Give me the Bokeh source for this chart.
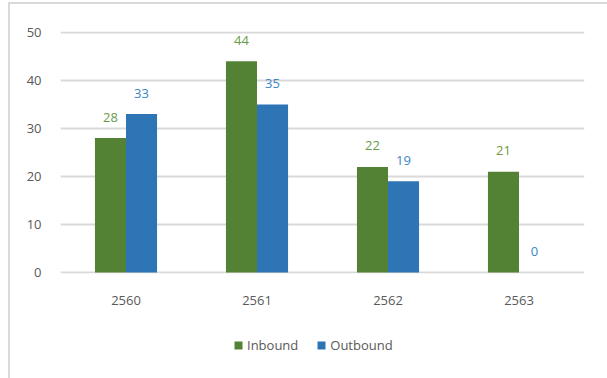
from bokeh.plotting import figure
from bokeh.layouts import column
from bokeh.models import ColumnDataSource, FactorRange, Range1d, LabelSet, Legend, LegendItem
from bokeh.core.properties import value
from bokeh.transform import dodge
from bokeh.embed import file_html
from bokeh.resources import INLINE

years = ["2560", "2561", "2562", "2563"]
inbound = [28, 44, 22, 21]
outbound = [33, 35, 19, 0]
series_names = ["Inbound", "Outbound"]
y_ticks = [0, 10, 20, 30, 40, 50]

FONT = "Open Sans"
GRAY = "#595959"
GREEN = "#548235"
BLUE = "#2E75B6"

src = ColumnDataSource(dict(
    year=years, inbound=inbound, outbound=outbound,
    in_txt=[str(v) for v in inbound], out_txt=[str(v) for v in outbound],
))

p = figure(x_range=FactorRange(factors=years), y_range=Range1d(-0.2, 50.2),
           width=597, height=316, output_backend="svg", toolbar_location=None,
           min_border_left=50, min_border_right=23, min_border_top=27, min_border_bottom=47)
p.outline_line_color = None
p.background_fill_color = "white"
p.border_fill_color = "white"

bw = 0.237
r1 = p.vbar(x=dodge("year", -bw / 2, range=p.x_range), top="inbound", width=bw, source=src,
            fill_color=GREEN, line_color=None)
r2 = p.vbar(x=dodge("year", bw / 2, range=p.x_range), top="outbound", width=bw, source=src,
            fill_color=BLUE, line_color=None)

lab1 = LabelSet(x=dodge("year", -bw / 2, range=p.x_range), y="inbound", text="in_txt", source=src,
                y_offset=21, text_align="center", text_baseline="middle",
                text_font=value(FONT), text_font_size="13px", text_color="#6A9A48")
lab2 = LabelSet(x=dodge("year", bw / 2, range=p.x_range), y="outbound", text="out_txt", source=src,
                y_offset=21, text_align="center", text_baseline="middle",
                text_font=value(FONT), text_font_size="13px", text_color="#3A85C8")
p.add_layout(lab1)
p.add_layout(lab2)

p.xgrid.grid_line_color = None
p.ygrid.grid_line_color = "#d9d9d9"
p.ygrid.grid_line_width = 2
p.yaxis.ticker = y_ticks
p.yaxis.axis_line_color = None
p.yaxis.major_tick_line_color = None
p.yaxis.minor_tick_line_color = None
p.yaxis.major_tick_out = 0
p.yaxis.major_label_standoff = 19
p.yaxis.major_label_text_font = FONT
p.yaxis.major_label_text_font_size = "13px"
p.yaxis.major_label_text_color = GRAY

p.xaxis.axis_line_color = None
p.xaxis.major_tick_line_color = None
p.xaxis.major_tick_out = 0
p.xaxis.major_label_standoff = 22
p.xaxis.major_label_text_font = FONT
p.xaxis.major_label_text_font_size = "13px"
p.xaxis.major_label_text_color = GRAY

# legend strip
lg = figure(width=597, height=58, output_backend="svg", toolbar_location=None,
            x_range=Range1d(0, 1), y_range=Range1d(0, 1),
            x_axis_type=None, y_axis_type=None,
            min_border_left=0, min_border_right=0, min_border_top=0, min_border_bottom=0)
lg.outline_line_color = None
lg.grid.grid_line_color = None
swatch = ColumnDataSource(dict(x=[0], top=[0]))
g1 = lg.vbar(x="x", top="top", width=0.01, source=swatch, fill_color=GREEN, line_color=None)
g2 = lg.vbar(x="x", top="top", width=0.01, source=swatch, fill_color=BLUE, line_color=None)
legend = Legend(items=[LegendItem(label=series_names[0], renderers=[g1]),
                       LegendItem(label=series_names[1], renderers=[g2])],
                orientation="horizontal", location=(173, 24),
                label_text_font=FONT, label_text_font_size="13px", label_text_color=GRAY,
                glyph_width=10, glyph_height=10, label_standoff=4, spacing=18,
                border_line_color=None, background_fill_alpha=0, margin=0, padding=4)
lg.add_layout(legend, "center")

layout = column(p, lg, spacing=0)
layout.styles = {"margin-left": "8px", "margin-top": "2px",
                 "border-left": "2px solid #d9d9d9", "border-top": "2px solid #d9d9d9"}

open("out.html", "w").write(file_html(layout, INLINE))
